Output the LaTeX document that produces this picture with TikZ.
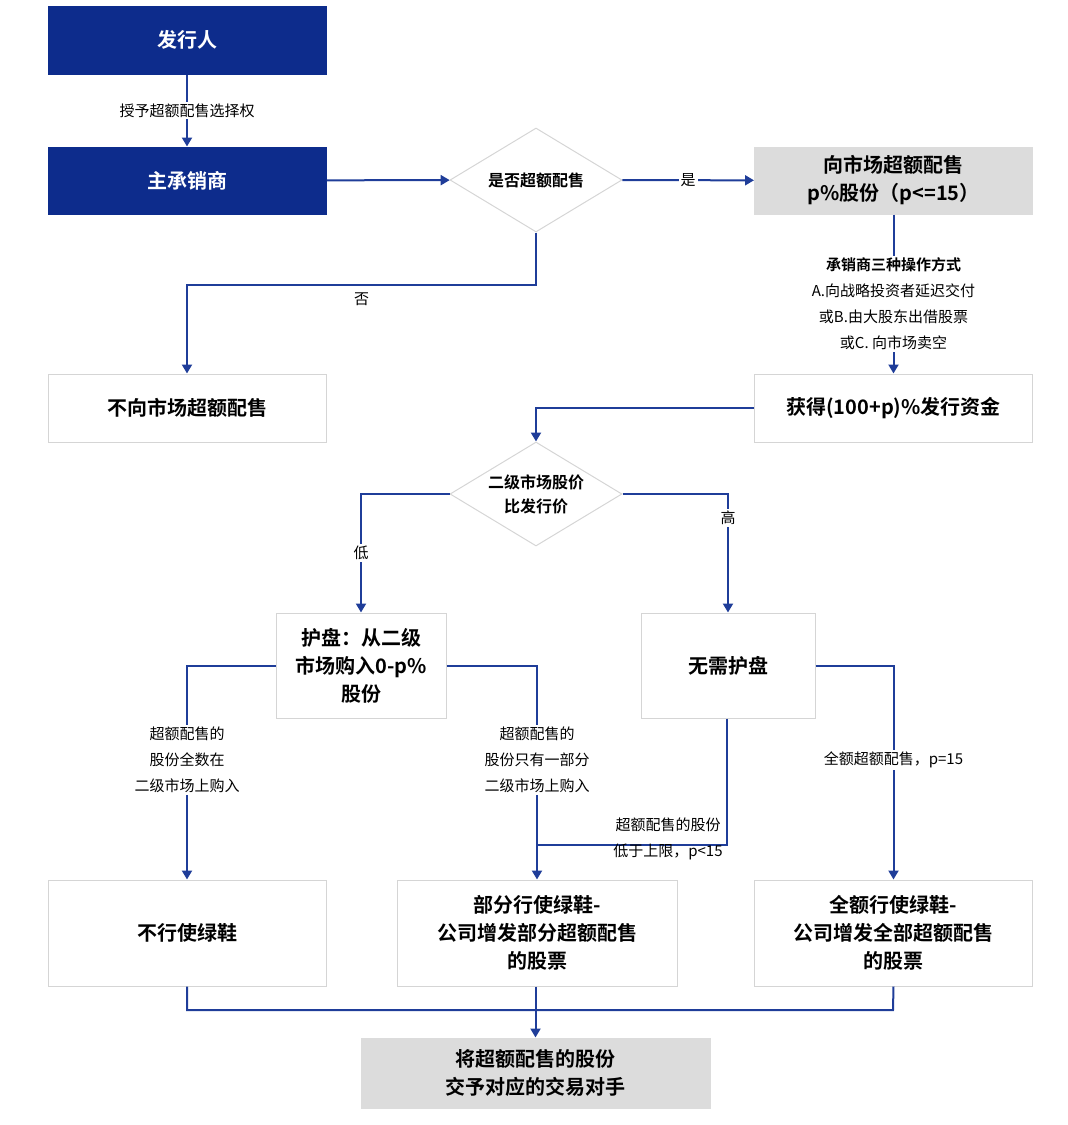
\documentclass[tikz,border=0pt]{standalone}
\usepackage{fontspec}
\setmainfont{Noto Sans CJK SC}[BoldFont={Noto Sans CJK SC Bold}]
\usetikzlibrary{positioning, calc, shapes.geometric, arrows.meta}
\definecolor{navy}{HTML}{0D2C8C}
\definecolor{wireblue}{HTML}{1F3D99}
\definecolor{boxgray}{HTML}{DCDCDC}
\definecolor{edgegray}{HTML}{D5D5D5}
\tikzset{wire/.style={line width=2pt, draw=wireblue}}

\begin{document}
\begin{tikzpicture}[x=1pt, y=-1pt, font=\fontsize{15}{26}\selectfont,
    box/.style={draw=edgegray, line width=1pt, minimum width=278pt, minimum height=68pt, align=center, font=\fontsize{20}{28}\selectfont\bfseries},
    dark/.style={box, fill=navy, draw=navy, text=white},
    grey/.style={box, fill=boxgray, draw=boxgray},
    choice/.style={diamond, draw=edgegray, line width=1pt, aspect=1.65, minimum width=172pt, minimum height=104pt, inner sep=0pt, align=center, font=\fontsize{16}{24}\selectfont\bfseries},
    lbl/.style={fill=white, inner sep=2pt, align=center},
    arr/.style={wire, -{Triangle[length=9pt, width=10pt]}}]
    \useasboundingbox (0,0) rectangle (1068,1125);
    \node[dark] (issuer) at (187,40) {发行人};
    \node[dark, minimum height=67pt] (lead) at (187,180.5) {主承销商};
    \node[choice] (over) at (536,180) {是否超额配售};
    \node[grey, minimum height=67pt] (sell) at (893.5,180.5) {向市场超额配售\\p\%股份（p<=15）};
    \node[box] (nosell) at (187,408) {不向市场超额配售};
    \node[box] (fund) at (893.5,408) {获得(100+p)\%发行资金};
    \node[choice] (price) at (536,494) {二级市场股价\\比发行价};
    \node[box, minimum width=170pt, minimum height=105pt] (guard) at (361,665.5) {护盘：从二级\\市场购入0-p\%\\股份};
    \node[box, minimum width=174pt, minimum height=105pt] (noguard) at (728,665.5) {无需护盘};
    \node[box, minimum height=106pt] (none) at (187,933) {不行使绿鞋};
    \node[box, minimum width=280pt, minimum height=106pt] (part) at (537,933) {部分行使绿鞋-\\公司增发部分超额配售\\的股票};
    \node[box, minimum height=106pt] (full) at (893.5,933) {全额行使绿鞋-\\公司增发全部超额配售\\的股票};
    \node[grey, minimum width=349pt, minimum height=70pt] (deliver) at (535.5,1073) {将超额配售的股份\\交予对应的交易对手};
    % connectors
    \draw[arr] (issuer) -- node[lbl] {授予超额配售选择权} (lead);
    \draw[arr] (lead) -- (over);
    \draw[arr] (over) -- node[lbl] {是} (sell);
    \coordinate (nobend) at (536,285);
    \draw[arr] (over.south) |- (nobend) -| node[pos=0.25, below=3pt] {否} (nosell.north);
    \draw[arr] (sell) -- node[lbl, pos=0.5, yshift=-10pt] {\textbf{承销商三种操作方式}\\A.向战略投资者延迟交付\\或B.由大股东出借股票\\或C. 向市场卖空} (fund);
    \draw[arr] (fund.west) -| (price.north);
    \draw[arr] (price.west) -| node[pos=0.75, lbl] {低} (guard.north);
    \draw[arr] (price.east) -| node[pos=0.6, lbl] {高} (noguard.north);
    \draw[arr] (guard.west) -| node[pos=0.72, lbl] {超额配售的\\股份全数在\\二级市场上购入} (none.north);
    \draw[arr] (guard.east) -| node[pos=0.72, lbl] {超额配售的\\股份只有一部分\\二级市场上购入} (part.north);
    \coordinate (lowbend) at (727,845);
    \coordinate (lowjoin) at (536,845);
    \draw[wire] (noguard.south -| lowbend) -- (lowbend) -- (lowjoin);
    \node[lbl, fill=none] (lowtxt) at (668,839) {超额配售的股份\\低于上限，p<15};
    \draw[arr] (noguard.east) -| node[pos=0.72, lbl] {全额超额配售，p=15} (full.north);
    \coordinate (lmerge) at (187,1010);
    \coordinate (rmerge) at (893,1010);
    \draw[wire] (none.south) -- (lmerge) -- (rmerge) -- (full.south);
    \draw[arr] (part.south -| deliver.north) -- (deliver.north);
\end{tikzpicture}
\end{document}
